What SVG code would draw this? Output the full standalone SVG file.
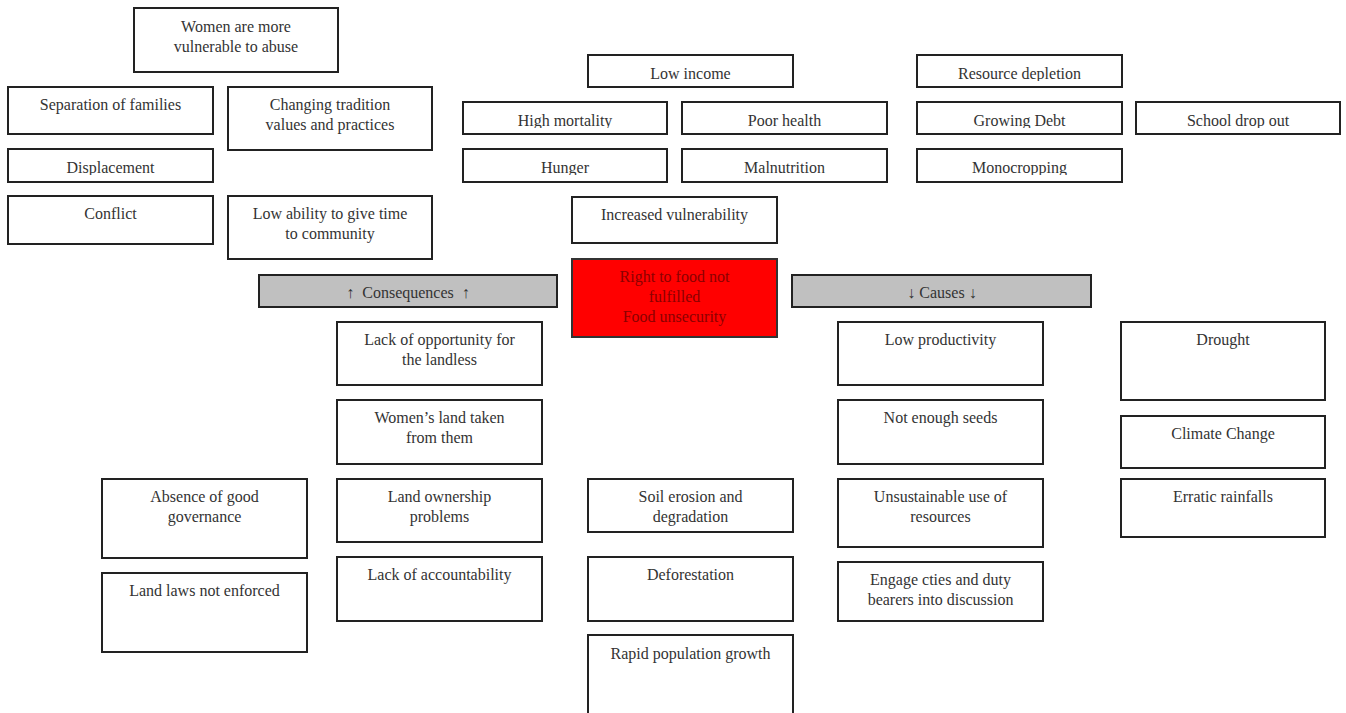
<svg xmlns="http://www.w3.org/2000/svg" width="1346" height="713" viewBox="0 0 1346 713">
<style>
rect.b{fill:#fff;stroke:#222;stroke-width:2}
rect.g{fill:#c0c0c0;stroke:#222;stroke-width:2}
rect.r{fill:#ff0000;stroke:#333;stroke-width:2}
text{font-family:"Liberation Serif","Times New Roman",serif;font-size:16px;fill:#333;text-anchor:middle}
text.rt{fill:#8b0000}
.cut{clip-path:url(#cut)}
</style>
<defs>
<clipPath id="cut">
<rect x="8" y="149" width="205" height="26"/>
<rect x="588" y="55" width="205" height="26"/>
<rect x="463" y="102" width="205" height="26"/>
<rect x="682" y="102" width="205" height="26"/>
<rect x="463" y="149" width="205" height="26"/>
<rect x="682" y="149" width="205" height="26"/>
<rect x="917" y="55" width="205" height="26"/>
<rect x="917" y="102" width="205" height="26"/>
<rect x="917" y="149" width="205" height="26"/>
<rect x="1136" y="102" width="205" height="26"/>
</clipPath>
</defs>
<rect width="1346" height="713" fill="#fff"/>
<g id="connectors"></g>

<g id="n-women-abuse"><rect class="b" x="134" y="8" width="204" height="64"/><text x="236" y="32">Women are more</text><text x="236" y="52">vulnerable to abuse</text></g>
<g id="n-separation"><rect class="b" x="8" y="87" width="205" height="47"/><text x="110.5" y="110">Separation of families</text></g>
<g id="n-changing"><rect class="b" x="228" y="87" width="204" height="63"/><text x="330" y="110">Changing tradition</text><text x="330" y="130">values and practices</text></g>
<g id="n-displacement"><rect class="b" x="8" y="149" width="205" height="33"/><text class="cut" x="110.5" y="173">Displacement</text></g>
<g id="n-conflict"><rect class="b" x="8" y="196" width="205" height="48"/><text x="110.5" y="219">Conflict</text></g>
<g id="n-low-ability"><rect class="b" x="228" y="196" width="204" height="63"/><text x="330" y="219">Low ability to give time</text><text x="330" y="239">to community</text></g>

<g id="n-low-income"><rect class="b" x="588" y="55" width="205" height="32"/><text class="cut" x="690.5" y="79">Low income</text></g>
<g id="n-high-mortality"><rect class="b" x="463" y="102" width="204" height="32"/><text class="cut" x="565" y="126">High mortality</text></g>
<g id="n-poor-health"><rect class="b" x="682" y="102" width="205" height="32"/><text class="cut" x="784.5" y="126">Poor health</text></g>
<g id="n-hunger"><rect class="b" x="463" y="149" width="204" height="33"/><text class="cut" x="565" y="173">Hunger</text></g>
<g id="n-malnutrition"><rect class="b" x="682" y="149" width="205" height="33"/><text class="cut" x="784.5" y="173">Malnutrition</text></g>
<g id="n-increased-vuln"><rect class="b" x="572" y="197" width="205" height="46"/><text x="674.5" y="220">Increased vulnerability</text></g>

<g id="n-resource-depletion"><rect class="b" x="917" y="55" width="205" height="32"/><text class="cut" x="1019.5" y="79">Resource depletion</text></g>
<g id="n-growing-debt"><rect class="b" x="917" y="102" width="205" height="32"/><text class="cut" x="1019.5" y="126">Growing Debt</text></g>
<g id="n-school-drop"><rect class="b" x="1136" y="102" width="204" height="32"/><text class="cut" x="1238" y="126">School drop out</text></g>
<g id="n-monocropping"><rect class="b" x="917" y="149" width="205" height="33"/><text class="cut" x="1019.5" y="173">Monocropping</text></g>

<g id="n-consequences"><rect class="g" x="259" y="275" width="298" height="32"/><text x="408" y="298" xml:space="preserve">↑  Consequences  ↑</text></g>
<g id="n-core"><rect class="r" x="572" y="259" width="205" height="78"/><text class="rt" x="674.5" y="282">Right to food not</text><text class="rt" x="674.5" y="302">fulfilled</text><text class="rt" x="674.5" y="322">Food unsecurity</text></g>
<g id="n-causes"><rect class="g" x="792" y="275" width="299" height="32"/><text x="942" y="298">↓ Causes ↓</text></g>

<g id="n-lack-opportunity"><rect class="b" x="337" y="322" width="205" height="63"/><text x="439.5" y="345">Lack of opportunity for</text><text x="439.5" y="365">the landless</text></g>
<g id="n-womens-land"><rect class="b" x="337" y="400" width="205" height="64"/><text x="439.5" y="423">Women’s land taken</text><text x="439.5" y="443">from them</text></g>
<g id="n-land-ownership"><rect class="b" x="337" y="479" width="205" height="63"/><text x="439.5" y="502">Land ownership</text><text x="439.5" y="522">problems</text></g>
<g id="n-lack-accountability"><rect class="b" x="337" y="557" width="205" height="64"/><text x="439.5" y="580">Lack of accountability</text></g>
<g id="n-absence-governance"><rect class="b" x="102" y="479" width="205" height="79"/><text x="204.5" y="502">Absence of good</text><text x="204.5" y="522">governance</text></g>
<g id="n-land-laws"><rect class="b" x="102" y="573" width="205" height="79"/><text x="204.5" y="596">Land laws not enforced</text></g>

<g id="n-soil-erosion"><rect class="b" x="588" y="479" width="205" height="53"/><text x="690.5" y="502">Soil erosion and</text><text x="690.5" y="522">degradation</text></g>
<g id="n-deforestation"><rect class="b" x="588" y="557" width="205" height="64"/><text x="690.5" y="580">Deforestation</text></g>
<g id="n-rapid-pop"><rect class="b" x="588" y="635" width="205" height="90"/><text x="690.5" y="659">Rapid population growth</text></g>

<g id="n-low-productivity"><rect class="b" x="838" y="322" width="205" height="63"/><text x="940.5" y="345">Low productivity</text></g>
<g id="n-seeds"><rect class="b" x="838" y="400" width="205" height="64"/><text x="940.5" y="423">Not enough seeds</text></g>
<g id="n-unsustainable"><rect class="b" x="838" y="479" width="205" height="68"/><text x="940.5" y="502">Unsustainable use of</text><text x="940.5" y="522">resources</text></g>
<g id="n-engage"><rect class="b" x="838" y="562" width="205" height="59"/><text x="940.5" y="585">Engage cties and duty</text><text x="940.5" y="605">bearers into discussion</text></g>

<g id="n-drought"><rect class="b" x="1121" y="322" width="204" height="78"/><text x="1223" y="345">Drought</text></g>
<g id="n-climate"><rect class="b" x="1121" y="416" width="204" height="52"/><text x="1223" y="439">Climate Change</text></g>
<g id="n-erratic"><rect class="b" x="1121" y="479" width="204" height="58"/><text x="1223" y="502">Erratic rainfalls</text></g>
</svg>
